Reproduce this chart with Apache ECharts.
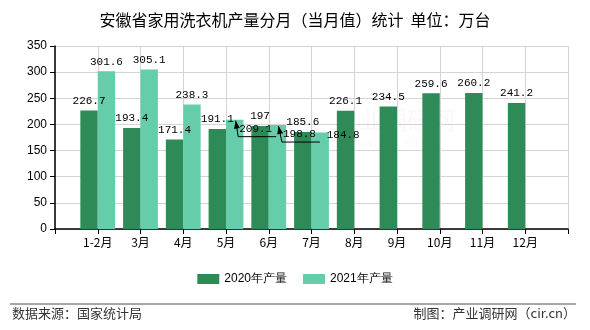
<!DOCTYPE html>
<html><head><meta charset="utf-8">
<script src="https://cdn.jsdelivr.net/npm/echarts@6/dist/echarts.min.js"></script>
<style>html,body{margin:0;padding:0;background:#fff}#c{width:590px;height:330px}</style>
</head><body><div id="c"></div>
<script>
const categories = ['1-2月','3月','4月','5月','6月','7月','8月','9月','10月','11月','12月'];
const values2020 = [226.7,193.4,171.4,191.1,197,185.6,226.1,234.5,259.6,260.2,241.2];
const values2021 = [301.6,305.1,238.3,209.1,198.8,184.8,null,null,null,null,null];
const seriesNames = ['2020年产量','2021年产量'];
const yTicks = {min:0,max:350,interval:50};

// label displacement (layout only), keyed by category index for 2021
const moved2021 = {3:{dx:21,dy:19,arrow:true},4:{dx:22,dy:19,arrow:true},5:{dx:23,dy:12,arrow:false}};

const axisCats = [''].concat(categories).concat(['']);
function pad(arr){return [null].concat(arr).concat([null]);}

const labelFont = {fontFamily:'"Liberation Mono","DejaVu Sans Mono",monospace',fontSize:11,color:'#000'};

const baseGraphic = [
  {id:'wm1',type:'text',left:335,top:108,z:-1,style:{text:'产业调研网',fontSize:24,fill:'rgba(230,120,140,0.07)',fontFamily:'"Noto Sans CJK SC",sans-serif'}},
  {id:'wm2',type:'text',left:352,top:138,z:-1,style:{text:'www.cir.cn',fontSize:11,fill:'rgba(230,120,140,0.07)',fontFamily:'"Liberation Mono",monospace'}},
  {id:'sep',type:'line',shape:{x1:10,y1:304,x2:576,y2:304},style:{stroke:'#888',lineWidth:1.5}},
  {id:'src',type:'text',left:12,top:307,style:{text:'数据来源：国家统计局',fontSize:13,fill:'#333',fontFamily:'"Noto Sans CJK SC",sans-serif'}},
  {id:'mk',type:'text',right:14,top:307,style:{text:'制图：产业调研网（cir.cn）',fontSize:13,fill:'#333',fontFamily:'"Noto Sans CJK SC",sans-serif'}}
];

const chart = echarts.init(document.getElementById('c'));
chart.setOption({
  animation:false,
  title:{text:'安徽省家用洗衣机产量分月（当月值）统计  单位：万台',left:'center',top:7,
    textStyle:{fontSize:16,fontWeight:'normal',color:'#000',fontFamily:'"Noto Sans CJK SC",sans-serif'}},
  grid:{left:55,right:22,top:46,bottom:101},
  legend:{data:seriesNames,top:268,left:'center',itemWidth:22,itemHeight:10,itemGap:16,
    icon:'rect',textStyle:{fontSize:12,color:'#000',fontFamily:'"Liberation Sans",Arial,sans-serif'}},
  xAxis:{type:'category',data:axisCats,boundaryGap:false,
    axisLine:{lineStyle:{color:'#000',width:1.5}},
    axisTick:{length:5,lineStyle:{color:'#000'},interval:0},
    axisLabel:{interval:0,color:'#000',fontSize:12,margin:7,fontFamily:'"Noto Sans CJK SC",sans-serif'},
    splitLine:{show:true,interval:0,lineStyle:{color:'#d4d4d4'}}},
  yAxis:{type:'value',min:yTicks.min,max:yTicks.max,interval:yTicks.interval,
    axisLine:{show:true,lineStyle:{color:'#000',width:1.5}},
    axisTick:{show:true,length:5,lineStyle:{color:'#000'}},
    axisLabel:{color:'#000',fontSize:12,margin:8,fontFamily:'"Liberation Sans",Arial,sans-serif'},
    splitLine:{lineStyle:{color:'#d4d4d4'}}},
  series:[
    {name:seriesNames[0],type:'bar',data:pad(values2020),barWidth:17.4,barGap:'0%',
      itemStyle:{color:'#2E8B57'},
      label:Object.assign({show:true,position:'top',distance:4},labelFont)},
    {name:seriesNames[1],type:'bar',data:pad(values2021),barWidth:17.4,
      itemStyle:{color:'#66CDAA'},
      label:Object.assign({show:true,position:'top',distance:4},labelFont),
      labelLayout:function(p){
        const m=moved2021[p.dataIndex-1];
        if(!m) return {};
        return {dx:m.dx,dy:m.dy};
      }}
  ],
  graphic:baseGraphic
});

// leader lines with arrowheads for displaced labels, derived from rendered bars/labels
const extra = [];
const sData = chart.getModel().getSeriesByIndex(1).getData();
Object.keys(moved2021).forEach(k=>{
  const m = moved2021[k]; if(!m.arrow) return;
  const di = +k + 1;
  const lay = sData.getItemLayout(di);
  const el = sData.getItemGraphicEl(di);
  if(!lay||!el) return;
  const tipX = lay.x + lay.width/2 + 1;
  const tipY = Math.min(lay.y, lay.y + lay.height) + 1;
  let lx, rx, by;
  const t = el.getTextContent && el.getTextContent();
  if(t){
    const r = t.getBoundingRect().clone();
    const tr = t.getComputedTransform();
    if(tr) r.applyTransform(tr);
    lx = r.x; rx = r.x + r.width; by = r.y + r.height;
  } else { lx = tipX + 6; rx = lx + 32; by = tipY + 16; }
  const cx = lx - 1, cy = by + 2;
  extra.push({type:'polyline',z:10,shape:{points:[[tipX,tipY],[cx,cy],[rx+4,cy]]},style:{stroke:'#000',lineWidth:1,fill:null}});
  const ang = Math.atan2(cy-tipY, cx-tipX);
  const L=8, W=3;
  const bx = tipX + Math.cos(ang)*L, byy = tipY + Math.sin(ang)*L;
  const px = -Math.sin(ang)*W, py = Math.cos(ang)*W;
  extra.push({type:'polygon',z:10,shape:{points:[[tipX,tipY],[bx+px,byy+py],[bx-px,byy-py]]},style:{fill:'#000'}});
});
chart.setOption({graphic:baseGraphic.concat(extra)});
</script></body></html>
